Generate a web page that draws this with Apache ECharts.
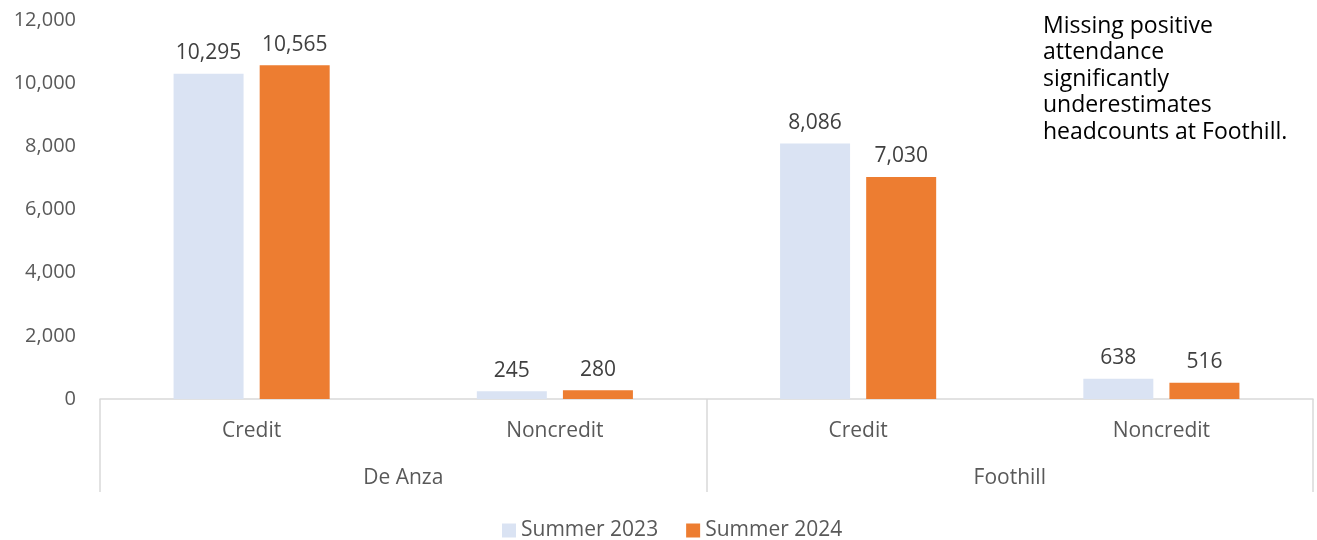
<!DOCTYPE html>
<html>
<head>
<meta charset="utf-8">
<script src="https://cdn.jsdelivr.net/npm/echarts@6/dist/echarts.min.js"></script>
<style>
  html, body { margin: 0; padding: 0; background: #fff; }
  #main { width: 1317px; height: 540px; }
</style>
</head>
<body>
<div id="main"></div>
<script>
// data
const programas = ['Credit', 'Noncredit', 'Credit', 'Noncredit'];
const colegios = ['De Anza', 'Foothill'];
const verao2023 = [10295, 245, 8086, 638];
const verao2024 = [10565, 280, 7030, 516];
const nomesSeries = ['Summer 2023', 'Summer 2024'];
const nota = 'Missing positive\nattendance\nsignificantly\nunderestimates\nheadcounts at Foothill.';

const fonte = '"Open Sans", Lato, sans-serif';

var chartDom = document.getElementById('main');
var myChart = echarts.init(chartDom);
var option;

const rotulo = {
  show: true,
  position: 'top',
  distance: 10,
  fontFamily: fonte,
  fontSize: 21,
  color: '#404040',
  formatter: p => p.value.toLocaleString('en-US')
};

option = {
  animation: false,
  textStyle: { fontFamily: fonte },
  grid: { left: 100, right: 4, top: 20, bottom: 141 },
  legend: {
    top: 515,
    left: 497,
    itemWidth: 14,
    itemHeight: 14,
    itemGap: 28,
    icon: 'rect',
    textStyle: { fontFamily: fonte, fontSize: 21, color: '#595959' },
    data: nomesSeries
  },
  xAxis: [
    {
      type: 'category',
      data: programas,
      axisLine: { lineStyle: { color: '#d9d9d9', width: 1.5 } },
      axisTick: { show: false },
      axisLabel: { margin: 22, fontFamily: fonte, fontSize: 21, color: '#595959' }
    },
    {
      type: 'category',
      data: colegios,
      position: 'bottom',
      axisLine: { show: false },
      axisTick: { show: true, length: 93, lineStyle: { color: '#d9d9d9', width: 1.5 } },
      axisLabel: { margin: 69, fontFamily: fonte, fontSize: 21, color: '#595959' }
    }
  ],
  yAxis: {
    type: 'value',
    min: 0,
    max: 12000,
    interval: 2000,
    axisLine: { show: false },
    axisTick: { show: false },
    splitLine: { show: false },
    axisLabel: {
      margin: 24,
      fontFamily: fonte,
      fontSize: 20,
      color: '#595959',
      formatter: v => v.toLocaleString('en-US')
    }
  },
  graphic: [{
    type: 'text',
    left: 1043,
    top: 13,
    style: {
      text: nota,
      fontFamily: fonte,
      fontSize: 23,
      lineHeight: 26.5,
      fill: '#000'
    }
  }],
  series: [
    {
      name: nomesSeries[0],
      type: 'bar',
      data: verao2023,
      barWidth: 70,
      barGap: '23%',
      itemStyle: { color: '#dae3f3' },
      label: rotulo
    },
    {
      name: nomesSeries[1],
      type: 'bar',
      data: verao2024,
      barWidth: 70,
      itemStyle: { color: '#ed7d31' },
      label: rotulo
    }
  ]
};
option && myChart.setOption(option);
</script>
</body>
</html>
